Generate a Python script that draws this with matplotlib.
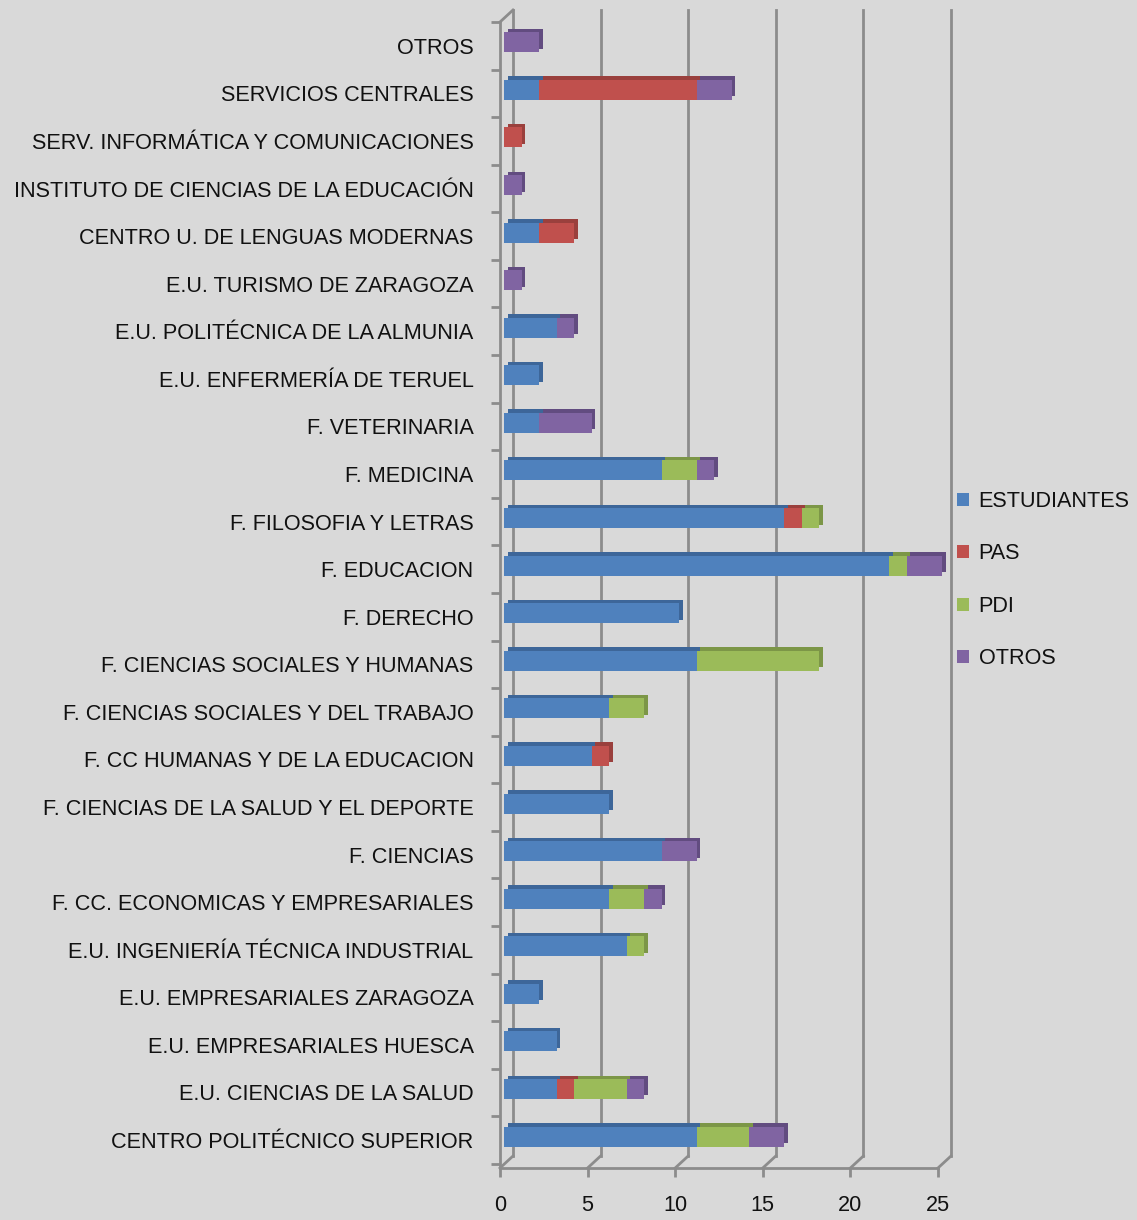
import matplotlib
matplotlib.use("Agg")
import matplotlib.pyplot as plt
import matplotlib.transforms as mtransforms
from matplotlib.patches import Patch
import numpy as np

plt.rcParams['font.family'] = ['Liberation Sans', 'DejaVu Sans']

# Categories listed bottom to top
categories = [
    "CENTRO POLITÉCNICO SUPERIOR",
    "E.U. CIENCIAS DE LA SALUD",
    "E.U. EMPRESARIALES HUESCA",
    "E.U. EMPRESARIALES ZARAGOZA",
    "E.U. INGENIERÍA TÉCNICA INDUSTRIAL",
    "F. CC. ECONOMICAS Y EMPRESARIALES",
    "F. CIENCIAS",
    "F. CIENCIAS DE LA SALUD Y EL DEPORTE",
    "F. CC HUMANAS Y DE LA EDUCACION",
    "F. CIENCIAS SOCIALES Y DEL TRABAJO",
    "F. CIENCIAS SOCIALES Y HUMANAS",
    "F. DERECHO",
    "F. EDUCACION",
    "F. FILOSOFIA Y LETRAS",
    "F. MEDICINA",
    "F. VETERINARIA",
    "E.U. ENFERMERÍA DE TERUEL",
    "E.U. POLITÉCNICA DE LA ALMUNIA",
    "E.U. TURISMO DE ZARAGOZA",
    "CENTRO U. DE LENGUAS MODERNAS",
    "INSTITUTO DE CIENCIAS DE LA EDUCACIÓN",
    "SERV. INFORMÁTICA Y COMUNICACIONES",
    "SERVICIOS CENTRALES",
    "OTROS",
]
estudiantes = [11, 3, 3, 2, 7, 6, 9, 6, 5, 6, 11, 10, 22, 16, 9, 2, 2, 3, 0, 2, 0, 0, 2, 0]
pas         = [0, 1, 0, 0, 0, 0, 0, 0, 1, 0, 0, 0, 0, 1, 0, 0, 0, 0, 0, 2, 0, 1, 9, 0]
pdi         = [3, 3, 0, 0, 1, 2, 0, 0, 0, 2, 7, 0, 1, 1, 2, 0, 0, 0, 0, 0, 0, 0, 0, 0]
otros       = [2, 1, 0, 0, 0, 1, 2, 0, 0, 0, 0, 0, 2, 0, 1, 3, 0, 1, 1, 0, 1, 0, 2, 2]
series_names = ["ESTUDIANTES", "PAS", "PDI", "OTROS"]
x_ticks = [0, 5, 10, 15, 20, 25]

colors = ["#4F81BD", "#C0504D", "#9BBB59", "#8064A2"]
dark = ["#3D6699", "#9A403D", "#7C9647", "#624C80"]
bg = "#D9D9D9"
gridc = "#8C8C8C"
textc = "#111111"
fs = 15.6

W, H = 1137, 1220
fig = plt.figure(figsize=(W / 100, H / 100), dpi=100, facecolor=bg)
left_px, right_px, bottom_px, top_px = 500, 938, 1168, 22
ax = fig.add_axes([left_px / W, 1 - bottom_px / H, (right_px - left_px) / W, (bottom_px - top_px) / H])
ax.set_facecolor(bg)
ax.patch.set_alpha(0)

n = len(categories)
y = np.arange(n)
ax.set_xlim(0, 25)
ax.set_ylim(-0.587, n - 1 + 0.42)

# 3D offsets
back = mtransforms.ScaledTranslation(0.13, 0.12, fig.dpi_scale_trans)
front_shift = mtransforms.ScaledTranslation(0.04, 0.035, fig.dpi_scale_trans)
depth = mtransforms.ScaledTranslation(0.075, 0.07, fig.dpi_scale_trans)

# Back wall gridlines and floor diagonals
xa = ax.get_xaxis_transform()
for v in x_ticks:
    ax.plot([v, v], [0, 1], transform=xa + back, color=gridc, lw=2, clip_on=False, zorder=0.5)
    p0 = xa.transform((v, 0))
    p1 = (xa + back).transform((v, 0))
    fig.add_artist(plt.Line2D([p0[0] / W, p1[0] / W], [p0[1] / H, p1[1] / H],
                              transform=fig.transFigure, color=gridc, lw=2))
p0 = xa.transform((0, 1))
p1 = (xa + back).transform((0, 1))
fig.add_artist(plt.Line2D([p0[0] / W, p1[0] / W], [p0[1] / H, p1[1] / H],
                          transform=fig.transFigure, color=gridc, lw=2))

# Bars
data = [estudiantes, pas, pdi, otros]
bh = 0.42
lefts = np.zeros(n)
for vals, d in zip(data, dark):
    ax.barh(y, vals, left=lefts, height=bh, color=d, edgecolor='none',
            transform=ax.transData + depth, zorder=2, clip_on=False)
    lefts += np.array(vals)
lefts = np.zeros(n)
for vals, c, name in zip(data, colors, series_names):
    ax.barh(y, vals, left=lefts, height=bh, color=c, edgecolor='none', zorder=3,
            transform=ax.transData + front_shift, clip_on=False, label=name)
    lefts += np.array(vals)

# Axes styling
for s in ["top", "right"]:
    ax.spines[s].set_visible(False)
for s in ["left", "bottom"]:
    ax.spines[s].set_color(gridc)
    ax.spines[s].set_linewidth(2)

ax.set_yticks(y)
ax.set_yticklabels(categories, fontsize=fs, color=textc)
ax.set_yticks(np.arange(n + 1) - 0.5, minor=True)
ax.tick_params(axis='y', which='major', length=0, pad=19)
ax.tick_params(axis='y', which='minor', length=6.5, width=2, color=gridc)
ax.set_xticks(x_ticks)
ax.set_xticklabels([str(v) for v in x_ticks], fontsize=fs, color=textc)
ax.tick_params(axis='x', which='major', length=6.5, width=2, color=gridc, pad=13)

handles = [Patch(facecolor=c, edgecolor='none', label=nm) for c, nm in zip(colors, series_names)]
fig.legend(handles=handles, loc='upper left', bbox_to_anchor=(957 / W, 1 - 491 / H),
           frameon=False, fontsize=fs, handlelength=0.55, handleheight=0.55,
           handletextpad=0.45, labelspacing=1.45, borderpad=0, borderaxespad=0,
           labelcolor=textc)

fig.savefig("out.png", dpi=100, facecolor=bg)
